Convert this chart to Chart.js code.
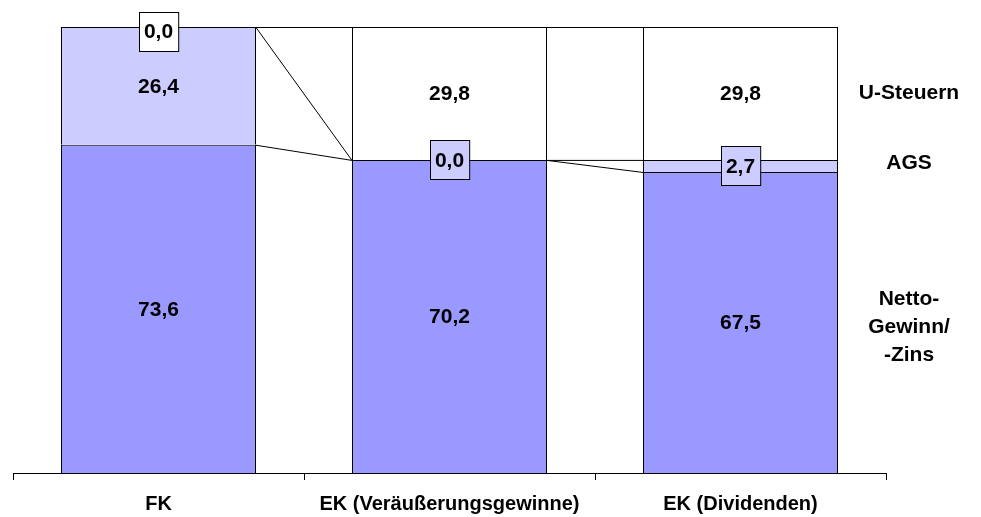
<!DOCTYPE html>
<html>
<head>
<meta charset="utf-8">
<script src="https://cdn.jsdelivr.net/npm/chart.js@4.4.1/dist/chart.umd.min.js"></script>
<style>
  html, body { margin: 0; padding: 0; background: #fff; }
  #grafica { display: block; }
</style>
</head>
<body>
<canvas id="grafica" width="981" height="517"></canvas>
<script>
var categorias = ['FK', 'EK (Veräußerungsgewinne)', 'EK (Dividenden)'];
var netto = [73.6, 70.2, 67.5];
var ags = [26.4, 0.0, 2.7];
var usteuern = [0.0, 29.8, 29.8];
var nombresSeries = [['Netto-', 'Gewinn/', '-Zins'], ['AGS'], ['U-Steuern']];
// pequeño desplazamiento vertical (px) de los nombres a la derecha
var ajusteNombres = [5, -3, 0];

var fuente = 'bold 21px "Liberation Sans", Arial, sans-serif';

function formato(v) {
    return v.toFixed(1).replace('.', ',');
}

// lineas de serie entre las barras (como en Excel)
var lineasSerie = {
    id: 'lineasSerie',
    afterDatasetsDraw: function (chart) {
        var ctx = chart.ctx;
        ctx.save();
        ctx.strokeStyle = '#000';
        ctx.lineWidth = 1;
        chart.data.datasets.forEach(function (ds, d) {
            var meta = chart.getDatasetMeta(d);
            for (var i = 0; i < meta.data.length - 1; i++) {
                var a = meta.data[i], b = meta.data[i + 1];
                ctx.beginPath();
                ctx.moveTo(a.x + a.width / 2, a.y + 0.5);
                ctx.lineTo(b.x - b.width / 2, b.y + 0.5);
                ctx.stroke();
            }
        });
        ctx.restore();
    }
};

var etiquetas = {
    id: 'etiquetas',
    afterDraw: function (chart) {
        var ctx = chart.ctx;
        ctx.save();
        ctx.font = fuente;
        ctx.textAlign = 'center';
        ctx.textBaseline = 'middle';
        chart.data.datasets.forEach(function (ds, d) {
            var meta = chart.getDatasetMeta(d);
            meta.data.forEach(function (bar, i) {
                var v = ds.data[i];
                var txt = formato(v);
                var yc = (bar.y + bar.base) / 2;
                if (v < 5) {
                    yc = Math.max(yc, chart.chartArea.top + 4);
                    var w = ctx.measureText(txt).width + 10;
                    var h = 39;
                    var x0 = Math.round(bar.x - w / 2) + 0.5;
                    var y0 = Math.round(yc - h / 2) + 0.5;
                    ctx.fillStyle = ds.backgroundColor;
                    ctx.fillRect(x0, y0, w, h);
                    ctx.strokeStyle = '#000';
                    ctx.lineWidth = 1;
                    ctx.strokeRect(x0, y0, w, h);
                }
                ctx.fillStyle = '#000';
                ctx.fillText(txt, bar.x, yc + 1);
            });
            // nombre de la serie a la derecha, a la altura de la ultima barra
            var ult = meta.data[meta.data.length - 1];
            var lineas = nombresSeries[d];
            var ym = (ult.y + ult.base) / 2 + ajusteNombres[d];
            var xn = chart.chartArea.right + 23;
            lineas.forEach(function (l, k) {
                ctx.fillText(l, xn, ym + (k - (lineas.length - 1) / 2) * 28);
            });
        });
        ctx.restore();
    }
};

var ctx = document.getElementById('grafica');
var mychart = new Chart(ctx, {
    type: 'bar',
    data: {
        labels: categorias,
        datasets: [
            { label: 'Netto-Gewinn/-Zins', data: netto, backgroundColor: '#9999FF' },
            { label: 'AGS', data: ags, backgroundColor: '#CCCCFF' },
            { label: 'U-Steuern', data: usteuern, backgroundColor: '#FFFFFF' }
        ]
    },
    options: {
        responsive: false,
        animation: false,
        layout: { padding: { left: 13, right: 95, top: 27, bottom: 3 } },
        datasets: {
            bar: {
                borderColor: '#000',
                borderWidth: 1,
                inflateAmount: 0,
                barThickness: 195
            }
        },
        plugins: {
            legend: { display: false },
            tooltip: { enabled: false }
        },
        scales: {
            x: {
                stacked: true,
                afterFit: function (scale) { scale.height = 41; },
                grid: {
                    offset: true,
                    drawOnChartArea: false,
                    color: '#000',
                    tickLength: 7
                },
                border: { color: '#000', width: 1 },
                ticks: {
                    color: '#000',
                    padding: 12,
                    font: { family: '"Liberation Sans", Arial, sans-serif', size: 20, weight: 'bold' }
                }
            },
            y: {
                stacked: true,
                display: false,
                min: 0,
                max: 100
            }
        }
    },
    plugins: [lineasSerie, etiquetas]
});
</script>
</body>
</html>
